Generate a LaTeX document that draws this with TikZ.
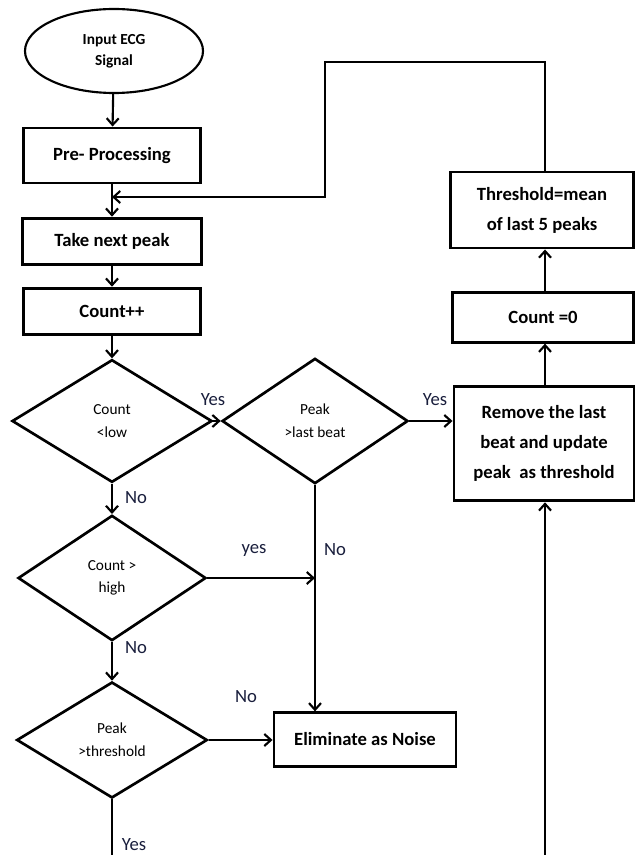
\documentclass[tikz,border=0pt]{standalone}
\usepackage{fontspec}
\setmainfont{Carlito}
\usepackage{tikz}
\usetikzlibrary{arrows.meta,shapes.geometric}
\definecolor{lblnavy}{RGB}{25, 30, 60}

\begin{document}
\begin{tikzpicture}[x=0.75pt, y=-0.75pt,
  procbox/.style={draw, line width=2.2pt, align=center, inner sep=0pt,
    font=\fontsize{14}{22.5}\selectfont\bfseries},
  testbox/.style={draw, diamond, line width=2pt, align=center, inner sep=0pt,
    font=\fontsize{11.5}{17}\selectfont},
  conn/.style={line width=1.6pt},
  arr/.style={conn, -{Straight Barb[length=5pt, width=9pt, line width=1.6pt]}},
  lbl/.style={text=lblnavy, font=\fontsize{14}{16}\selectfont}]
\useasboundingbox (0,0) rectangle (638,855);

% Left column
\node[draw, ellipse, line width=1.6pt, minimum width=133.5pt, minimum height=63pt,
  align=center, font=\fontsize{11.5}{16}\selectfont\bfseries]
  (input) at (114,51) {Input ECG\\Signal};
\node[procbox, minimum width=132.75pt, minimum height=41.25pt] (pre) at (112,155.5) {Pre- Processing};
\node[procbox, minimum width=134pt, minimum height=35pt] (take) at (112,241.5) {Take next peak};
\node[procbox, minimum width=133pt, minimum height=35pt] (count) at (112,311.5) {Count++};

\node[testbox, minimum width=150pt, minimum height=92pt] (low) at (112,421) {Count\\<low};
\node[testbox, minimum width=141pt, minimum height=94pt] (high) at (112,578) {Count >\\high};
\node[testbox, minimum width=143pt, minimum height=87pt] (thresh) at (112,740) {Peak\\>threshold};

% Middle column
\node[testbox, minimum width=139.5pt, minimum height=94pt] (last) at (315,421) {Peak\\>last beat};
\node[procbox, minimum width=136.5pt, minimum height=40pt] (noise) at (365,739.5) {Eliminate as Noise};

% Right column
\node[procbox, minimum width=135pt, minimum height=86pt] (remove) at (544,443.5)
  {Remove the last\\beat and update\\peak \ as threshold};
\node[procbox, minimum width=136pt, minimum height=37pt] (zero) at (543,317.5) {Count =0};
\node[procbox, minimum width=137pt, minimum height=57pt] (mean) at (542,210)
  {Threshold=mean\\of last 5 peaks};

% Free ends of the loops
\coordinate (loop) at (325,62);
\coordinate (join) at (112,197);
\coordinate (outyes) at (112,855);
\coordinate (inyes) at (545,855);

% Main flow
\draw[arr] (input) -- (pre);
\draw[arr] (pre) -- (take);
\draw[arr] (take) -- (count);
\draw[arr] (count) -- (low);
\draw[arr] (low.south) -- (high.north);
\draw[arr] (high.south) -- (thresh.north);
\draw[conn] (thresh.south) -- (outyes);

% Branches
\draw[arr] (low.east) -- (last.west);
\draw[arr] (last.east) -- (last.east -| remove.west);
\draw[arr] (last.south) -- (last.south |- noise.north);
\draw[arr] (high.east) -- (high.east -| last.south);
\draw[arr] (thresh.east) -- (thresh.east -| noise.west);

% Threshold update
\draw[arr] (inyes) -- (inyes |- remove.south);
\draw[arr] (remove.north -| inyes) -- (zero.south -| inyes);
\draw[arr] (zero.north -| inyes) -- (mean.south -| inyes);
\draw[arr] (mean.north -| inyes) |- (loop) |- (join);

% Labels
\node[lbl] (l1) at (213,400) {Yes};
\node[lbl] (l2) at (435,400) {Yes};
\node[lbl] (l3) at (136,498) {No};
\node[lbl] (l4) at (254,550) {yes};
\node[lbl] (l5) at (335,550) {No};
\node[lbl] (l6) at (136,648) {No};
\node[lbl] (l7) at (246,697) {No};
\node[lbl] (l8) at (134,845) {Yes};
\end{tikzpicture}
\end{document}
